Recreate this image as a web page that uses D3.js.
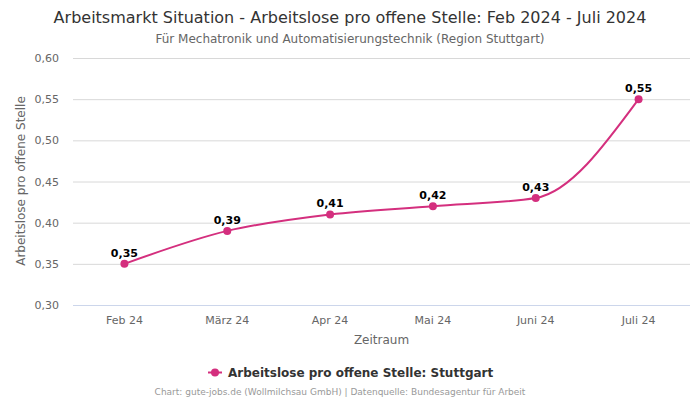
<!DOCTYPE html>
<html><head><meta charset="utf-8">
<script src="https://cdn.jsdelivr.net/npm/d3@7"></script>
<style>body{margin:0;background:#fff}svg{display:block;font-family:"DejaVu Sans",sans-serif}</style>
</head><body>
<svg id="c" width="700" height="400"></svg>
<script>
const categories = ["Feb 24","März 24","Apr 24","Mai 24","Juni 24","Juli 24"];
const values = [0.35,0.39,0.41,0.42,0.43,0.55];
const yTicks = [0.30,0.35,0.40,0.45,0.50,0.55,0.60];
const seriesName = "Arbeitslose pro offene Stelle: Stuttgart";
const color = "#d42f7e";

const svg = d3.select("#c");
const m = {l:73, r:690, t:58, b:305};
const x = d3.scaleBand().domain(categories).range([m.l, m.r]);
const y = d3.scaleLinear().domain([0.30,0.60]).range([m.b, m.t]);
const fmt = v => d3.format(".2f")(v).replace(".", ",");

svg.append("text").attr("x",350).attr("y",23).attr("text-anchor","middle")
  .attr("font-size",16).attr("fill","#333").text("Arbeitsmarkt Situation - Arbeitslose pro offene Stelle: Feb 2024 - Juli 2024");
svg.append("text").attr("x",350).attr("y",43).attr("text-anchor","middle")
  .attr("font-size",12).attr("fill","#666").text("Für Mechatronik und Automatisierungstechnik (Region Stuttgart)");

// grid
svg.append("g").selectAll("line").data(yTicks.slice(1)).join("line")
  .attr("x1",m.l).attr("x2",m.r).attr("y1",d=>y(d)+0.5).attr("y2",d=>y(d)+0.5)
  .attr("stroke","#d8d8d8").attr("stroke-width",1);
svg.append("line").attr("x1",m.l).attr("x2",m.r).attr("y1",y(0.30)+0.5).attr("y2",y(0.30)+0.5)
  .attr("stroke","#ccd6eb");

// y labels
svg.append("g").selectAll("text").data(yTicks).join("text")
  .attr("x",59).attr("y",d=>y(d)+4).attr("text-anchor","end")
  .attr("font-size",11).attr("fill","#666").text(fmt);
svg.append("text").attr("transform","translate(25,181) rotate(-90)").attr("text-anchor","middle")
  .attr("font-size",12).attr("fill","#666").text("Arbeitslose pro offene Stelle");

// x labels
svg.append("g").selectAll("text").data(categories).join("text")
  .attr("x",d=>x(d)+x.bandwidth()/2).attr("y",324).attr("text-anchor","middle")
  .attr("font-size",11).attr("fill","#666").text(d=>d);
svg.append("text").attr("x",(m.l+m.r)/2).attr("y",344).attr("text-anchor","middle")
  .attr("font-size",12).attr("fill","#666").text("Zeitraum");

const pts = categories.map((c,i)=>({c, v:values[i]}));
const line = d3.line().x(d=>x(d.c)+x.bandwidth()/2).y(d=>y(d.v)).curve(d3.curveMonotoneX);
svg.append("path").datum(pts).attr("d",line).attr("fill","none").attr("stroke",color).attr("stroke-width",2);
svg.append("g").selectAll("circle").data(pts).join("circle")
  .attr("cx",d=>x(d.c)+x.bandwidth()/2).attr("cy",d=>y(d.v)).attr("r",4).attr("fill",color);
svg.append("g").selectAll("text").data(pts).join("text")
  .attr("x",d=>x(d.c)+x.bandwidth()/2).attr("y",d=>y(d.v)-7).attr("text-anchor","middle")
  .attr("font-size",11).attr("font-weight","bold").attr("fill","#000")
  .attr("stroke","#fff").attr("stroke-width",2).attr("paint-order","stroke").text(d=>fmt(d.v));

// legend
const lg = svg.append("g");
lg.append("line").attr("x1",208).attr("x2",222).attr("y1",372.5).attr("y2",372.5).attr("stroke",color).attr("stroke-width",2);
lg.append("circle").attr("cx",215).attr("cy",372.5).attr("r",4).attr("fill",color);
lg.append("text").attr("x",228).attr("y",377).attr("font-size",12).attr("font-weight","bold").attr("fill","#333").text(seriesName);

svg.append("text").attr("x",340).attr("y",395).attr("text-anchor","middle")
  .attr("font-size",9).attr("fill","#999").text("Chart: gute-jobs.de (Wollmilchsau GmbH) | Datenquelle: Bundesagentur für Arbeit");
</script>
</body></html>
